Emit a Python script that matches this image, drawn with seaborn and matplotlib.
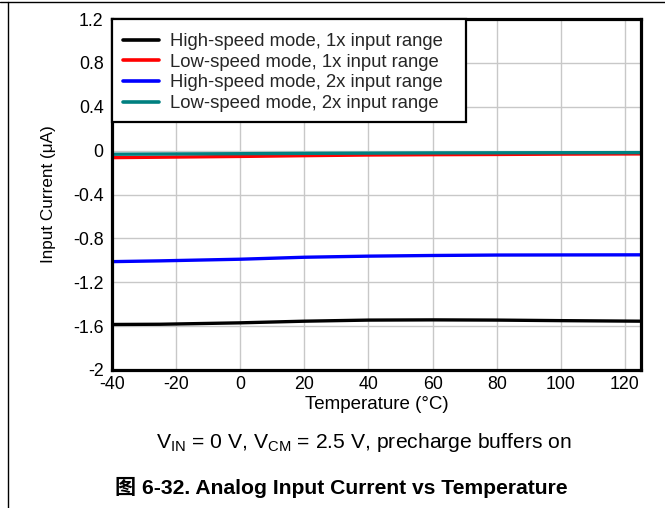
import matplotlib
matplotlib.use("Agg")
import matplotlib.pyplot as plt
import seaborn as sns
import pandas as pd
from matplotlib.lines import Line2D
from matplotlib.patches import Rectangle

temps = [-40, -25, 0, 20, 40, 60, 80, 100, 125]
hs_1x = [-1.585, -1.583, -1.570, -1.555, -1.545, -1.543, -1.545, -1.550, -1.555]
ls_1x = [-0.064, -0.060, -0.053, -0.046, -0.040, -0.037, -0.035, -0.032, -0.030]
hs_2x = [-1.012, -1.005, -0.990, -0.972, -0.962, -0.956, -0.952, -0.951, -0.950]
ls_2x = [-0.033, -0.031, -0.028, -0.025, -0.023, -0.021, -0.020, -0.019, -0.018]

series_names = ["High-speed mode, 1x input range", "Low-speed mode, 1x input range",
                "High-speed mode, 2x input range", "Low-speed mode, 2x input range"]
colors = ["#000000", "#ff0000", "#0000ff", "#008080"]

x_ticks = [-40, -20, 0, 20, 40, 60, 80, 100, 120]
y_ticks = [-2, -1.6, -1.2, -0.8, -0.4, 0, 0.4, 0.8, 1.2]
y_tick_labels = ["-2", "-1.6", "-1.2", "-0.8", "-0.4", "0", "0.4", "0.8", "1.2"]

rows = []
for name, vals in zip(series_names, [hs_1x, ls_1x, hs_2x, ls_2x]):
    for t, v in zip(temps, vals):
        rows.append({"Temperature": t, "Current": v, "Series": name})
df = pd.DataFrame(rows)

sns.set_theme(style="white")
plt.rcParams['font.family'] = ['Liberation Sans', 'Noto Sans CJK SC', 'DejaVu Sans']

W, H = 665, 508
fig = plt.figure(figsize=(W/100, H/100), dpi=100)
ax = fig.add_axes([112/W, 1-370/H, (641-112)/W, (370-19)/H])

sns.lineplot(data=df, x="Temperature", y="Current", hue="Series",
             hue_order=series_names, palette=colors, linewidth=2.4,
             ax=ax, legend=False, estimator=None, sort=True)

ax.set_xlim(-40, 125)
ax.set_ylim(-2, 1.2)
ax.set_xticks(x_ticks)
ax.set_xticklabels([str(t) for t in x_ticks], fontsize=12.8)
ax.set_yticks(y_ticks)
ax.set_yticklabels(y_tick_labels, fontsize=12.8)
ax.tick_params(axis='x', length=0, pad=4.5, colors='black')
ax.tick_params(axis='y', length=0, pad=6, colors='black')
ax.grid(True, color='#c8c8c8', linewidth=1)
ax.set_axisbelow(True)
for s in ax.spines.values():
    s.set_color('black')
    s.set_linewidth(2.3)

ax.set_xlabel("Temperature (°C)", fontsize=13.5, labelpad=2, color='black')
ax.set_ylabel("Input Current (μA)", fontsize=12.3, labelpad=12, color='black')

# legend box (white, framed)
box = Rectangle((112/W, 1-122/H), 354/W, 103/H, transform=fig.transFigure,
                facecolor='white', edgecolor='black', linewidth=1.6,
                zorder=4, clip_on=False)
ax.add_patch(box)

handles = [Line2D([0], [0], color=c, linewidth=2.6) for c in colors]
leg = ax.legend(handles, series_names, loc='upper left', fontsize=13.3,
                bbox_to_anchor=(123/W, 1-33/H), bbox_transform=fig.transFigure,
                frameon=False, borderaxespad=0, borderpad=0,
                handlelength=1.95, handletextpad=0.6, labelspacing=0.2)
leg.set_zorder(5)

fig.text(364/W, 1-443/H, r"V$_{\mathregular{IN}}$ = 0 V, V$_{\mathregular{CM}}$ = 2.5 V, precharge buffers on",
         ha='center', va='center', fontsize=15.2, color='black')
fig.text(341/W, 1-487/H, "图 6-32. Analog Input Current vs Temperature",
         ha='center', va='center', fontsize=15.2, fontweight='bold', color='black')

fig.add_artist(Line2D([0, 1], [1-2/H, 1-2/H], color='black', linewidth=1, transform=fig.transFigure))
fig.add_artist(Line2D([8/W, 8/W], [0, 1-2/H], color='black', linewidth=1, transform=fig.transFigure))

fig.savefig("out.png", dpi=100)
